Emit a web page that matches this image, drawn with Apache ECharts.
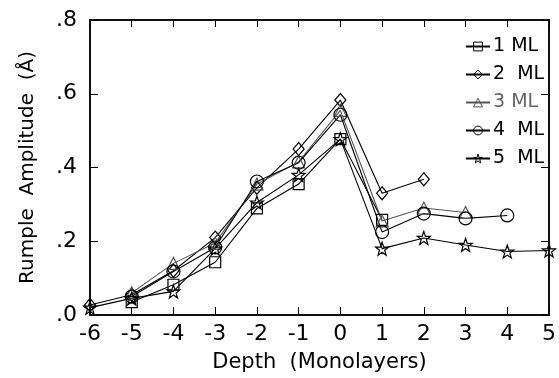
<!DOCTYPE html>
<html><head><meta charset="utf-8">
<script src="https://cdn.jsdelivr.net/npm/echarts@6/dist/echarts.min.js"></script>
<style>html,body{margin:0;padding:0;background:#fff}#c{width:559px;height:378px}</style>
</head><body><div id="c"></div>
<script>
const xTicks = [-6,-5,-4,-3,-2,-1,0,1,2,3,4,5];
const yTickLabels = {0:'.0',0.2:'.2',0.4:'.4',0.6:'.6',0.8:'.8'};
const ml1X = [-5,-4,-3,-2,-1,0,1];
const ml1Y = [0.035,0.082,0.143,0.289,0.355,0.477,0.258];
const ml2X = [-6,-5,-4,-3,-2,-1,0,1,2];
const ml2Y = [0.027,0.055,0.12,0.21,0.345,0.45,0.583,0.33,0.368];
const ml3X = [-5,-4,-3,-2,-1,0,1,2,3];
const ml3Y = [0.06,0.14,0.195,0.355,0.415,0.555,0.255,0.29,0.278];
const ml4X = [-5,-4,-3,-2,-1,0,1,2,3,4];
const ml4Y = [0.05,0.118,0.183,0.362,0.413,0.543,0.225,0.275,0.262,0.27];
const ml5X = [-6,-5,-4,-3,-2,-1,0,1,2,3,4,5];
const ml5Y = [0.02,0.045,0.064,0.18,0.305,0.38,0.477,0.18,0.209,0.19,0.172,0.175];
const names = ['1 ML','2  ML','3 ML','4  ML','5  ML'];

const star = 'path://M0,-10L2.4,-3.1L9.5,-3.1L3.8,1.2L5.9,8.1L0,4L-5.9,8.1L-3.8,1.2L-9.5,-3.1L-2.4,-3.1Z';
const FONT = 'DejaVu Sans';
function mk(name, xs, ys, symbol, size, color){
  return {
    name, type:'line', data: xs.map((x,i)=>[x, ys[i]]),
    symbol, symbolSize:size, clip:false,
    lineStyle:{color, width:1.1},
    itemStyle:{color:'rgba(255,255,255,0)', borderColor:color, borderWidth:1.2},
    emphasis:{disabled:true}, animation:false
  };
}
const chart = echarts.init(document.getElementById('c'));
chart.setOption({
  animation:false,
  grid:{left:90, right:8, top:20, bottom:56, show:true, borderColor:'#000', borderWidth:1.5},
  legend:{
    orient:'vertical', left:460, top:32, itemWidth:24, itemHeight:11, itemGap:9,
    itemStyle:{color:'rgba(255,255,255,0)', borderWidth:1},
    textStyle:{fontFamily:FONT, fontSize:19, color:'#000', padding:[0,0,0,-2]},
    data: names.map((n,i)=>({name:n, textStyle:{color: i===2 ? '#666' : '#000'}}))
  },
  xAxis:[{
    type:'value', min:-6, max:5, interval:1,
    name:'Depth  (Monolayers)', nameLocation:'middle', nameGap:37,
    nameTextStyle:{fontFamily:FONT, fontSize:21, color:'#000'},
    axisLine:{onZero:false, lineStyle:{color:'#000', width:1.5}},
    axisTick:{inside:true, length:8, lineStyle:{color:'#000'}},
    axisLabel:{fontFamily:FONT, fontSize:22, color:'#000', margin:8},
    splitLine:{show:false}
  },{
    type:'value', min:-6, max:5, interval:1, position:'top',
    axisLine:{onZero:false, lineStyle:{color:'#000', width:1.5}},
    axisTick:{inside:true, length:7, lineStyle:{color:'#000'}},
    axisLabel:{show:false}, splitLine:{show:false}
  }],
  yAxis:[{
    type:'value', min:0, max:0.8, interval:0.2,
    name:'Rumple  Amplitude  (Å)', nameLocation:'middle', nameGap:52,
    nameTextStyle:{fontFamily:FONT, fontSize:20, color:'#000'},
    axisLine:{show:true, onZero:false, lineStyle:{color:'#000', width:1.5}},
    axisTick:{show:true, inside:true, length:8, lineStyle:{color:'#000'}},
    axisLabel:{fontFamily:FONT, fontSize:22, color:'#000', margin:13,
      formatter:v=>yTickLabels[Math.round(v*10)/10] ?? ''},
    splitLine:{show:false}
  },{
    type:'value', min:0, max:0.8, interval:0.2, position:'right',
    axisLine:{show:true, onZero:false, lineStyle:{color:'#000', width:1.5}},
    axisTick:{show:true, inside:true, length:8, lineStyle:{color:'#000'}},
    axisLabel:{show:false}, splitLine:{show:false}
  }],
  series:[
    mk(names[0], ml1X, ml1Y, 'rect', 11, '#000'),
    mk(names[1], ml2X, ml2Y, 'diamond', [11,13], '#000'),
    mk(names[2], ml3X, ml3Y, 'triangle', 12, '#555'),
    mk(names[3], ml4X, ml4Y, 'circle', 13, '#000'),
    mk(names[4], ml5X, ml5Y, star, 13, '#000')
  ]
});
</script></body></html>
